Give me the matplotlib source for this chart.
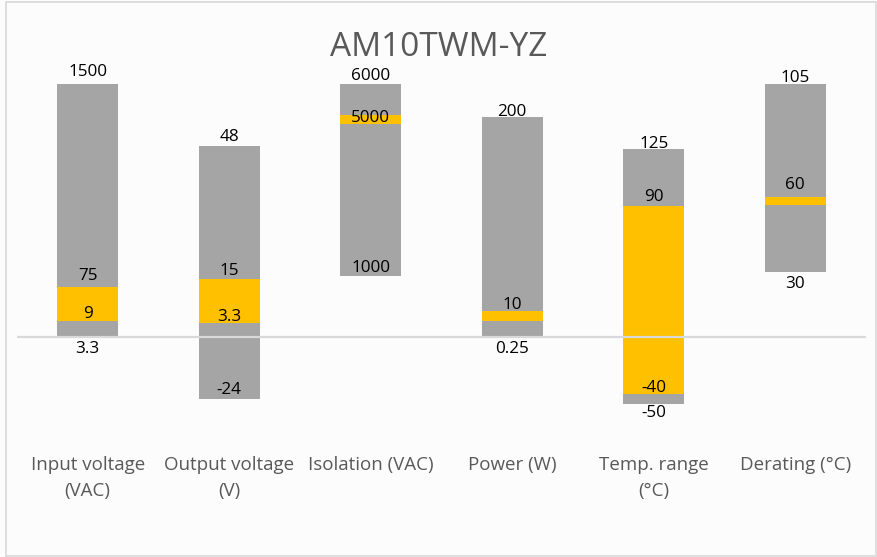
import matplotlib
matplotlib.use("Agg")
import matplotlib.pyplot as plt
from matplotlib.patches import Rectangle

plt.rcParams['font.family'] = ['Open Sans', 'DejaVu Sans']

title = "AM10TWM-YZ"
categories = ["Input voltage\n(VAC)", "Output voltage\n(V)", "Isolation (VAC)",
              "Power (W)", "Temp. range\n(°C)", "Derating (°C)"]

# Stacked bar boundaries (chart units): range bottom, product low, product high, range top
range_bottom = [0.0, -24.5, 24.2, 0.0, -26.4, 25.8]
product_low = [6.3, 5.5, 84.3, 6.3, -22.4, 52.2]
product_high = [19.8, 22.9, 87.7, 10.4, 51.9, 55.3]
range_top = [100.0, 75.5, 100.0, 87.0, 74.3, 100.0]

# Data label texts, per category: (text, boundary name)
label_texts = [
    [("1500", "top"), ("75", "high"), ("9", "low"), ("3.3", "bottom")],
    [("48", "top"), ("15", "high"), ("3.3", "low"), ("-24", "bottom")],
    [("6000", "top"), ("5000", "low"), ("1000", "bottom")],
    [("200", "top"), ("10", "high"), ("0.25", "bottom")],
    [("125", "top"), ("90", "high"), ("-40", "low"), ("-50", "bottom")],
    [("105", "top"), ("60", "high"), ("30", "bottom")],
]
# label vertical offsets in pixels (downward positive) -- styling
label_offsets = [
    [-12, -11, -7, 12],
    [-8.5, -8, -6, -8.5],
    [-8, -6, -8],
    [-5, -6, 12],
    [-5, -9, -6, 9],
    [-6.5, -12, 12],
]

GREY = "#a5a5a5"
YELLOW = "#ffc000"

W, H = 878, 557
fig = plt.figure(figsize=(W / 100, H / 100), dpi=100)
fig.patch.set_facecolor("#fcfcfc")
# outer border
fig.add_artist(Rectangle((6 / W, 1 / H), 870 / W, 554 / H, transform=fig.transFigure,
                         fill=False, edgecolor="#d9d9d9", linewidth=1.2))

unit = 2.53  # pixels per chart unit
base_px = 337
ax_top_px, ax_bot_px = 60, 430
ax_left_px, ax_right_px = 17, 866
ax = fig.add_axes([ax_left_px / W, (H - ax_bot_px) / H,
                   (ax_right_px - ax_left_px) / W, (ax_bot_px - ax_top_px) / H])
ax.set_xlim(-0.5, len(categories) - 0.5)
ax.set_ylim(-(ax_bot_px - base_px) / unit, (base_px - ax_top_px) / unit)
ax.axis("off")

x = list(range(len(categories)))
bw = 0.43
lower = [l - b for l, b in zip(product_low, range_bottom)]
mid = [h - l for h, l in zip(product_high, product_low)]
upper = [t - h for t, h in zip(range_top, product_high)]
ax.bar(x, lower, bw, bottom=range_bottom, color=GREY, zorder=2)
ax.bar(x, mid, bw, bottom=product_low, color=YELLOW, zorder=2)
ax.bar(x, upper, bw, bottom=product_high, color=GREY, zorder=2)

ax.axhline(0, color="#d9d9d9", linewidth=1.6, zorder=3)

for i in x:
    bounds = {"bottom": range_bottom[i], "low": product_low[i],
              "high": product_high[i], "top": range_top[i]}
    for (txt, key), off in zip(label_texts[i], label_offsets[i]):
        ax.annotate(txt, (i, bounds[key]), xytext=(0, -off), textcoords="offset pixels",
                    ha="center", va="center", fontsize=12.3, color="#000000", zorder=4)

for i, cat in enumerate(categories):
    ax.text(i, -(456 - base_px) / unit, cat, ha="center", va="top", fontsize=13.5,
            color="#595959", linespacing=1.55, clip_on=False)

fig.text(0.5, 1 - 47 / H, title, ha="center", va="center", fontsize=24, color="#595959")

fig.savefig("out.png", dpi=100, facecolor=fig.get_facecolor())
